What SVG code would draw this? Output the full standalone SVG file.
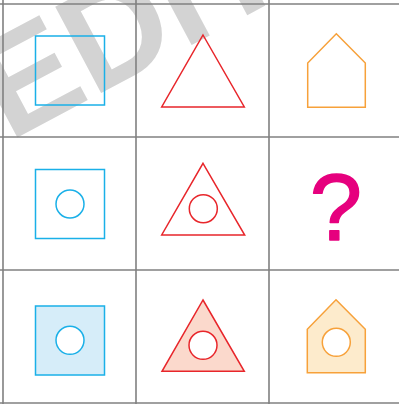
<svg xmlns="http://www.w3.org/2000/svg" width="399" height="404" viewBox="0 0 399 404">
<style>
.grid{stroke:#808080;stroke-width:1.6;fill:none}
.blue{stroke:#1ab0e8;stroke-width:1.5;fill:none}
.red{stroke:#e8262b;stroke-width:1.5;fill:none}
.orange{stroke:#f7a13a;stroke-width:1.5;fill:none}
</style>
<rect width="399" height="404" fill="#ffffff"/>
<g id="watermark">
<text transform="translate(9,142) rotate(-28)" font-family="Liberation Sans, Arial, sans-serif" font-weight="bold" font-size="142" fill="#d3d3d3">EDIT</text>
</g>
<g id="grid">
<line class="grid" x1="3" y1="0" x2="3" y2="404"/>
<line class="grid" x1="136" y1="0" x2="136" y2="404"/>
<line class="grid" x1="269" y1="0" x2="269" y2="404"/>
<line class="grid" x1="0" y1="4" x2="399" y2="4"/>
<line class="grid" x1="0" y1="137" x2="399" y2="137"/>
<line class="grid" x1="0" y1="270" x2="399" y2="270"/>
<line class="grid" x1="0" y1="403" x2="399" y2="403"/>
</g>
<g id="r1c1"><rect class="blue" x="35.5" y="36" width="69" height="69"/></g>
<g id="r1c2"><polygon class="red" points="203,35 244.3,107 161.7,107"/></g>
<g id="r1c3"><polygon class="orange" points="336.3,33.7 365.3,63 365.3,107.3 307.7,107.3 307.7,63"/></g>
<g id="r2c1"><rect class="blue" x="35.5" y="169.5" width="69" height="69"/><circle class="blue" cx="70" cy="204" r="14"/></g>
<g id="r2c2"><polygon class="red" points="203,163.3 244.7,235 161.7,235"/><circle class="red" cx="203.3" cy="208.7" r="14"/></g>
<g id="r2c3"><text x="336" y="240" text-anchor="middle" font-family="Liberation Sans, Arial, sans-serif" font-size="94" fill="#e6007e" stroke="#e6007e" stroke-width="1.5" stroke-linejoin="round">?</text></g>
<g id="r3c1"><rect class="blue" x="35.5" y="306" width="69" height="69" style="fill:#d6edf9"/><circle class="blue" cx="70" cy="340.3" r="14" style="fill:#fff"/></g>
<g id="r3c2"><polygon class="red" points="203,300 244.3,371.3 162,371.3" style="fill:#fbd9cc"/><circle class="red" cx="203" cy="345.3" r="14" style="fill:#fff"/></g>
<g id="r3c3"><polygon class="orange" points="336,299.7 365.3,329.3 365.3,372.7 307.3,372.7 307.3,329.3" style="fill:#fdebcc"/><circle class="orange" cx="336.3" cy="342.3" r="14" style="fill:#fff"/></g>
</svg>
